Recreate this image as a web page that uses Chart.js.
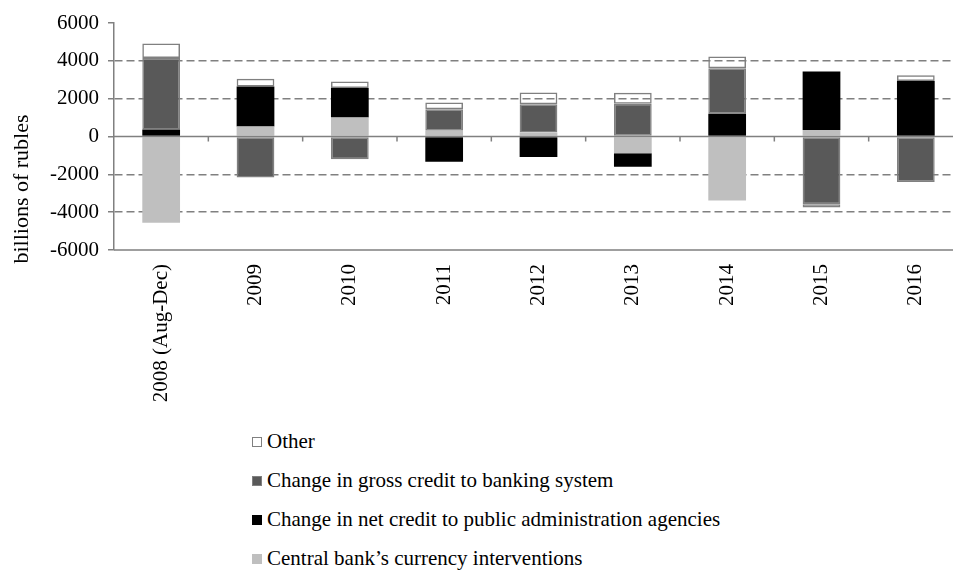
<!DOCTYPE html>
<html>
<head>
    <title>Money supply sources</title>
    <meta charset="utf-8">
    <script src="https://cdn.jsdelivr.net/npm/chart.js@4.4.1/dist/chart.umd.min.js"></script>
    <style>
        html, body {
            margin: 0;
            padding: 0;
            background: #fff;
            overflow: hidden;
        }
        .chart-box {
            position: relative;
            width: 965px;
            height: 410px;
        }
        #legend {
            position: absolute;
            left: 252px;
            top: 422px;
            font-family: "Liberation Serif", "Times New Roman", serif;
            font-size: 21px;
            color: #000;
        }
        .legend-row {
            display: flex;
            align-items: center;
            height: 39px;
        }
        .swatch {
            width: 10px;
            height: 10px;
            box-sizing: border-box;
            margin-right: 5px;
        }
    </style>
</head>
<body>
    <div class="chart-box">
        <canvas id="money-chart" width="965" height="410"></canvas>
    </div>
    <div id="legend"></div>

    <script>
        // Years on the category axis
        const categories = ['2008 (Aug-Dec)', '2009', '2010', '2011', '2012', '2013', '2014', '2015', '2016'];

        // Contributions, billions of rubles
        const centralBank = [-4560, 530, 1000, 300, 210, -880, -3380, 350, 0];
        const netCredit = [370, 2110, 1560, -1340, -1090, -720, 1200, 3090, 2940];
        const grossCredit = [3780, -2170, -1200, 1140, 1500, 1730, 2410, -3580, -2400];
        const other = [770, 410, 350, 360, 620, 580, 620, -170, 300];

        // Value axis ticks
        const yTicks = [-6000, -4000, -2000, 0, 2000, 4000, 6000];

        const gridGray = '#808080';
        const serif = '"Liberation Serif", "Times New Roman", serif';

        // solid zero line, bottom edge and small ticks between categories
        const axisLines = {
            id: 'axisLines',
            afterDatasetsDraw(chart) {
                const {ctx, chartArea, scales: {x, y}} = chart;
                const y0 = y.getPixelForValue(0);
                const yb = y.getPixelForValue(yTicks[0]);
                ctx.save();
                ctx.strokeStyle = gridGray;
                ctx.lineWidth = 1.5;
                ctx.beginPath();
                ctx.moveTo(chartArea.left, y0);
                ctx.lineTo(chartArea.right, y0);
                ctx.moveTo(chartArea.left, yb);
                ctx.lineTo(chartArea.right, yb);
                for (let i = 0; i < categories.length - 1; i++) {
                    const px = (x.getPixelForValue(i) + x.getPixelForValue(i + 1)) / 2;
                    ctx.moveTo(px, y0);
                    ctx.lineTo(px, y0 + 5);
                }
                ctx.stroke();
                ctx.restore();
            }
        };

        // rotated axis title, sits lower than the plot middle
        const yTitle = {
            id: 'yTitle',
            afterDraw(chart) {
                const {ctx} = chart;
                ctx.save();
                ctx.translate(22, 189);
                ctx.rotate(-Math.PI / 2);
                ctx.font = '22px ' + serif;
                ctx.fillStyle = '#000';
                ctx.textAlign = 'center';
                ctx.textBaseline = 'middle';
                ctx.fillText('billions of rubles', 0, 0);
                ctx.restore();
            }
        };

        const ctx = document.getElementById('money-chart').getContext('2d');
        const chart = new Chart(ctx, {
            type: 'bar',
            data: {
                labels: categories,
                datasets: [
                    {
                        label: 'Central bank\u2019s currency interventions',
                        data: centralBank,
                        backgroundColor: '#bfbfbf',
                        borderWidth: 0
                    },
                    {
                        label: 'Change in net credit to public administration agencies',
                        data: netCredit,
                        backgroundColor: '#000000',
                        borderWidth: 0
                    },
                    {
                        label: 'Change in gross credit to banking system',
                        data: grossCredit,
                        backgroundColor: '#595959',
                        borderColor: gridGray,
                        borderWidth: 1.5
                    },
                    {
                        label: 'Other',
                        data: other,
                        backgroundColor: 'rgba(255,255,255,0)',
                        borderColor: gridGray,
                        borderWidth: 1.5
                    }
                ]
            },
            options: {
                responsive: false,
                animation: false,
                layout: {
                    padding: {top: 23, right: 2, left: 0, bottom: 0}
                },
                datasets: {
                    bar: {
                        categoryPercentage: 1,
                        barPercentage: 0.4,
                        borderSkipped: false
                    }
                },
                plugins: {
                    legend: {display: false},
                    tooltip: {enabled: false}
                },
                scales: {
                    x: {
                        stacked: true,
                        grid: {display: false},
                        border: {display: false},
                        ticks: {
                            minRotation: 90,
                            maxRotation: 90,
                            padding: 6,
                            color: '#000',
                            font: {family: serif, size: 21}
                        },
                        afterFit(scale) {
                            scale.height = 160;
                        }
                    },
                    y: {
                        stacked: true,
                        min: yTicks[0],
                        max: yTicks[yTicks.length - 1],
                        afterBuildTicks(scale) {
                            scale.ticks = yTicks.map(v => ({value: v}));
                        },
                        grid: {
                            color: c => (c.tick && [0, yTicks[0], yTicks[yTicks.length - 1]].includes(c.tick.value)) ? 'rgba(0,0,0,0)' : gridGray,
                            tickColor: gridGray,
                            lineWidth: 1.5,
                            tickLength: 6
                        },
                        border: {
                            display: true,
                            color: gridGray,
                            width: 1.5,
                            dash: [8, 4]
                        },
                        ticks: {
                            padding: 9,
                            color: '#000',
                            font: {family: serif, size: 21},
                            callback: v => String(v)
                        },
                        afterFit(scale) {
                            scale.width = 114;
                        }
                    }
                }
            },
            plugins: [axisLines, yTitle]
        });

        // legend column, same order as the stack from top down
        const legendBox = document.getElementById('legend');
        chart.data.datasets.slice().reverse().forEach(ds => {
            const row = document.createElement('div');
            row.className = 'legend-row';
            const sw = document.createElement('span');
            sw.className = 'swatch';
            sw.style.background = ds.backgroundColor === 'rgba(255,255,255,0)' ? '#fff' : ds.backgroundColor;
            if (ds.borderWidth) sw.style.border = '1.5px solid ' + ds.borderColor;
            const txt = document.createElement('span');
            txt.textContent = ds.label;
            row.appendChild(sw);
            row.appendChild(txt);
            legendBox.appendChild(row);
        });
    </script>
</body>
</html>
